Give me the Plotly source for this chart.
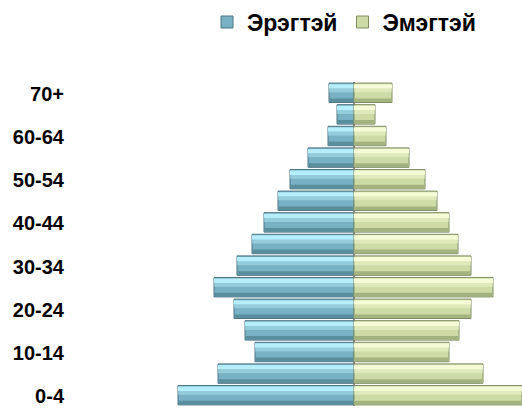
import plotly.graph_objects as go

# Age groups, youngest at the bottom
age_groups = ["0-4", "5-9", "10-14", "15-19", "20-24", "25-29", "30-34",
              "35-39", "40-44", "45-49", "50-54", "55-59", "60-64", "65-69", "70+"]
male = [176, 136, 99, 109, 120, 140, 117, 102, 90, 76, 64, 46, 26, 17, 25]
female = [168, 129, 95, 105, 117, 139, 117, 104, 95, 83, 71, 55, 32, 21, 38]
shown_labels = ["0-4", "10-14", "20-24", "30-34", "40-44", "50-54", "60-64", "70+"]

FONT = "Liberation Sans, Arial, sans-serif"

# body, top highlight, bottom shade, outline
BLUE = ("#78b1c3", "#b6edfa", "#5b8e9d", "#4f7583")
GREEN = ("#cfdba6", "#f5fbd6", "#a3b27e", "#7f8c63")

fig = go.Figure()


def add_series(name, values, sign, colors):
    xs = [sign * v for v in values]
    body, light, shade, edge = colors
    fig.add_trace(go.Bar(
        y=age_groups, x=xs, orientation="h", name=name,
        width=0.9, offset=-0.45,
        marker=dict(color=body, line=dict(color=edge, width=1)),
    ))
    # light bevel along the top edge
    fig.add_trace(go.Bar(
        y=age_groups, x=xs, orientation="h", showlegend=False,
        width=0.2, offset=0.2,
        marker=dict(color=light, line=dict(width=0)),
    ))
    # soft sheen just under the highlight
    fig.add_trace(go.Bar(
        y=age_groups, x=xs, orientation="h", showlegend=False,
        width=0.18, offset=0.02,
        marker=dict(color=light, opacity=0.45, line=dict(width=0)),
    ))
    # dark bevel along the bottom edge
    fig.add_trace(go.Bar(
        y=age_groups, x=xs, orientation="h", showlegend=False,
        width=0.17, offset=-0.43,
        marker=dict(color=shade, line=dict(width=0)),
    ))


add_series("Эрэгтэй", male, -1, BLUE)
add_series("Эмэгтэй", female, 1, GREEN)

fig.update_layout(
    width=522, height=408,
    margin=dict(l=72, r=0, t=79, b=2),
    barmode="overlay",
    paper_bgcolor="white", plot_bgcolor="white",
    font=dict(family=FONT, size=20, color="#000000", weight="bold"),
    legend=dict(
        orientation="h", x=0.30, xanchor="left", y=1.185, yanchor="middle",
        font=dict(family=FONT, size=23, color="#000000", weight="bold"),
        itemwidth=30, traceorder="normal",
    ),
    xaxis=dict(
        range=[-282, 168], showgrid=False, showticklabels=False, ticks="",
        zeroline=True, zerolinecolor="#8c8c8c", zerolinewidth=2,
        showline=False, fixedrange=True,
    ),
    yaxis=dict(
        type="category", categoryorder="array", categoryarray=age_groups,
        range=[-0.5, len(age_groups) - 0.5],
        tickvals=shown_labels, ticktext=shown_labels,
        showgrid=False, zeroline=False, showline=False, ticks="",
        tickfont=dict(family=FONT, size=20, color="#000000", weight="bold"),
        ticklabelstandoff=7, ticklabelshift=1,
        fixedrange=True,
    ),
    showlegend=True,
)

fig.write_html("out.html")
